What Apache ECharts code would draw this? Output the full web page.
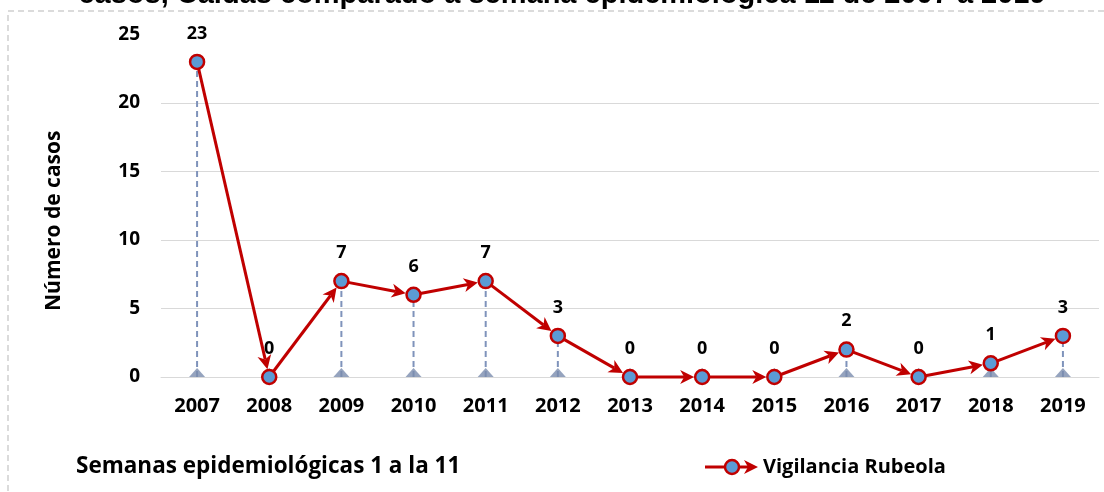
<!DOCTYPE html>
<html>
<head>
<meta charset="utf-8">
<script src="https://cdn.jsdelivr.net/npm/echarts@6/dist/echarts.min.js"></script>
<style>
  html, body { margin: 0; padding: 0; background: #fff; }
  #chart { width: 1104px; height: 492px; }
</style>
</head>
<body>
<div id="chart"></div>
<script>
// datos: semanas 1 a 11, vigilancia rubeola
var years = ['2007', '2008', '2009', '2010', '2011', '2012', '2013', '2014', '2015', '2016', '2017', '2018', '2019']
var casos = [23, 0, 7, 6, 7, 3, 0, 0, 0, 2, 0, 1, 3]
var yTicks = [0, 5, 10, 15, 20, 25]

var titleText = 'casos, Caldas comparado a semana epidemiológica 11 de 2007 a 2019'
var seriesName = 'Vigilancia Rubeola'
var footText = 'Semanas epidemiológicas 1 a la 11'

var RED = '#C00000'
var BLUE = '#5B9BD5'
var SLATE = '#7F93BB'
var FONT = '"Open Sans"'

// tramos entre puntos consecutivos (para dibujar las flechas)
var tramos = []
for (var i = 1; i < casos.length; i++) {
  tramos.push([i - 1, casos[i - 1], i, casos[i]])
}

function arrowSegment(params, api) {
  var p0 = api.coord([api.value(0), api.value(1)])
  var p1 = api.coord([api.value(2), api.value(3)])
  var dx = p1[0] - p0[0], dy = p1[1] - p0[1]
  var len = Math.sqrt(dx * dx + dy * dy)
  var ux = dx / len, uy = dy / len
  var nx = -uy, ny = ux
  var r = 8, head = 14, w = 7
  var tip = [p1[0] - ux * r, p1[1] - uy * r]
  var base = [tip[0] - ux * head, tip[1] - uy * head]
  var notch = [tip[0] - ux * (head - 4), tip[1] - uy * (head - 4)]
  return {
    type: 'group',
    children: [
      {
        type: 'line',
        shape: { x1: p0[0], y1: p0[1], x2: notch[0], y2: notch[1] },
        style: { stroke: RED, lineWidth: 3 }
      },
      {
        type: 'polygon',
        shape: { points: [tip, [base[0] + nx * w, base[1] + ny * w], notch, [base[0] - nx * w, base[1] - ny * w]] },
        style: { fill: RED }
      }
    ]
  }
}

function dropLine(params, api) {
  var a = api.coord([api.value(0), 0])
  var b = api.coord([api.value(0), api.value(1)])
  return {
    type: 'line',
    shape: { x1: a[0], y1: a[1], x2: b[0], y2: b[1] },
    style: { stroke: SLATE, lineWidth: 2, lineDash: [6, 4] }
  }
}

var myChart = echarts.init(document.getElementById('chart'))

var option = {
  animation: false,
  backgroundColor: '#fff',
  grid: { left: 161, right: 5, top: 34.5, bottom: 115 },
  xAxis: {
    type: 'category',
    data: years,
    axisTick: { show: false },
    axisLine: { lineStyle: { color: '#D9D9D9', width: 1 } },
    axisLabel: { color: '#000', fontFamily: FONT, fontWeight: 'bold', fontSize: 20, margin: 19 }
  },
  yAxis: {
    type: 'value',
    min: yTicks[0],
    max: yTicks[yTicks.length - 1],
    interval: 5,
    name: 'Número de casos',
    nameLocation: 'middle',
    nameGap: 96,
    nameTextStyle: { color: '#000', fontFamily: FONT, fontWeight: 'bold', fontSize: 21, padding: [0, 30, 0, 0] },
    axisLine: { show: false },
    axisTick: { show: false },
    axisLabel: { color: '#000', fontFamily: FONT, fontWeight: 'bold', fontSize: 19, margin: 21 },
    splitLine: { showMaxLine: false, lineStyle: { color: '#D9D9D9', width: 1 } }
  },
  series: [
    {
      type: 'custom',
      name: 'drop',
      silent: true,
      data: casos.map(function (v, i) { return [i, v] }),
      encode: { x: 0, y: 1 },
      renderItem: dropLine,
      z: 1
    },
    {
      type: 'scatter',
      name: 'base',
      silent: true,
      data: casos.map(function () { return 0 }),
      symbol: 'triangle',
      symbolSize: [16, 9],
      symbolOffset: [0, '-50%'],
      itemStyle: { color: '#7A8CAE' },
      z: 2
    },
    {
      type: 'custom',
      name: 'tramos',
      silent: true,
      data: tramos,
      encode: { x: [0, 2], y: [1, 3] },
      renderItem: arrowSegment,
      z: 3
    },
    {
      type: 'scatter',
      name: seriesName,
      data: casos,
      symbol: 'circle',
      symbolSize: 14,
      itemStyle: { color: BLUE, borderColor: RED, borderWidth: 2.5, opacity: 1 },
      label: {
        show: true,
        position: 'top',
        distance: 11,
        color: '#000',
        fontFamily: FONT,
        fontWeight: 'bold',
        fontSize: 18
      },
      z: 4
    }
  ],
  graphic: [
    {
      type: 'rect',
      shape: { x: 8, y: 11, width: 1200, height: 600 },
      style: { fill: null, stroke: '#D0D0D0', lineWidth: 1.5, lineDash: [6, 4] },
      silent: true
    },
    {
      type: 'text',
      x: 562, y: 9,
      style: {
        text: titleText,
        fill: '#000',
        font: 'bold 29px "Liberation Sans", Arial, sans-serif',
        textAlign: 'center',
        textVerticalAlign: 'bottom'
      }
    },
    {
      type: 'text',
      x: 76, y: 467,
      style: {
        text: footText,
        fill: '#000',
        font: 'bold 22.5px ' + FONT,
        textVerticalAlign: 'middle'
      }
    },
    {
      type: 'group',
      x: 0, y: 0,
      children: [
        { type: 'line', shape: { x1: 705, y1: 467, x2: 748, y2: 467 }, style: { stroke: RED, lineWidth: 3 } },
        { type: 'polygon', shape: { points: [[758, 467], [744, 460], [748, 467], [744, 474]] }, style: { fill: RED } },
        { type: 'circle', shape: { cx: 732, cy: 467, r: 7 }, style: { fill: BLUE, stroke: RED, lineWidth: 2.5 } },
        {
          type: 'text', x: 763, y: 467,
          style: { text: seriesName, fill: '#000', font: 'bold 20px ' + FONT, textVerticalAlign: 'middle' }
        }
      ]
    }
  ]
}

myChart.setOption(option)
</script>
</body>
</html>
